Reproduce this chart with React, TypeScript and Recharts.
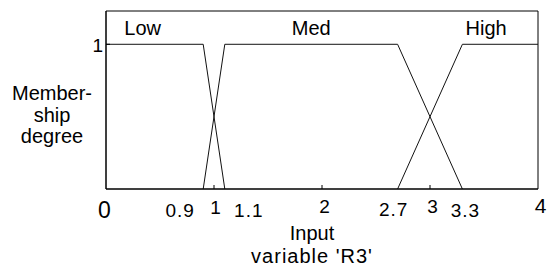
import React from 'react';
import { LineChart, Line, XAxis, YAxis, ReferenceArea, ReferenceDot } from 'recharts';

const lowSet = [
  { x: 0, y: 1 },
  { x: 0.9, y: 1 },
  { x: 1.1, y: 0 },
];
const medSet = [
  { x: 0.9, y: 0 },
  { x: 1.1, y: 1 },
  { x: 2.7, y: 1 },
  { x: 3.3, y: 0 },
];
const highSet = [
  { x: 2.7, y: 0 },
  { x: 3.3, y: 1 },
  { x: 4, y: 1 },
];
const setNames = [
  { name: 'Low', x: 0.34 },
  { name: 'Med', x: 1.9 },
  { name: 'High', x: 3.52 },
];
const xTicks = [0, 0.9, 1, 1.1, 2, 2.7, 3, 3.3, 4];
const majorTicks = [1, 2, 3];

const FONT = '"Liberation Sans", Arial, sans-serif';

// hand placement of the tick labels, as in the original figure
const tickStyle: Record<string, { dx: number; dy: number; size: number }> = {
  '0': { dx: -1, dy: 29, size: 23 },
  '0.9': { dx: -23, dy: 28, size: 19 },
  '1': { dx: 2, dy: 25, size: 19 },
  '1.1': { dx: 24, dy: 28, size: 19 },
  '2': { dx: 3, dy: 24, size: 19 },
  '2.7': { dx: -4, dy: 27, size: 19 },
  '3': { dx: 3, dy: 24, size: 19 },
  '3.3': { dx: 3, dy: 28, size: 19 },
  '4': { dx: 3, dy: 24, size: 21 },
};

const XTick = (props: any) => {
  const { x, y, payload } = props;
  const key = String(payload.value);
  const s = tickStyle[key] || { dx: 0, dy: 24, size: 19 };
  return (
    <g>
      {majorTicks.includes(payload.value) && (
        <line x1={x} y1={y} x2={x} y2={y - 4} stroke="#000" strokeWidth={1} />
      )}
      <text x={x + s.dx} y={y + s.dy} textAnchor="middle" fontSize={s.size} fontFamily={FONT} fill="#000" letterSpacing={1}>
        {key}
      </text>
    </g>
  );
};

const YTick = (props: any) => {
  const { x, y, payload } = props;
  return (
    <g>
      <line x1={x} y1={y} x2={x + 4} y2={y} stroke="#000" strokeWidth={1} />
      <text x={x - 3} y={y + 8} textAnchor="end" fontSize={19} fontFamily={FONT} fill="#000">
        {payload.value}
      </text>
    </g>
  );
};

const XTitle = () => (
  <g fontFamily={FONT} fontSize={20} fill="#000" textAnchor="middle">
    <text x={312} y={240}>Input</text>
    <text x={312} y={263} letterSpacing={1}>variable  'R3'</text>
  </g>
);

const YTitle = () => (
  <g fontFamily={FONT} fontSize={20} fill="#000" textAnchor="middle">
    <text x={52} y={100}>Member-</text>
    <text x={52} y={122}>ship</text>
    <text x={52} y={143}>degree</text>
  </g>
);

export default function App() {
  return (
    <div style={{ position: 'absolute', left: 0, top: 0, background: '#fff' }}>
      <LineChart width={547} height={268} margin={{ top: 11, right: 9, left: 46, bottom: 49 }}>
        <XAxis
          type="number"
          dataKey="x"
          domain={[0, 4]}
          ticks={xTicks}
          interval={0}
          tickSize={0}
          tickMargin={0}
          tick={<XTick />}
          axisLine={{ stroke: '#000' }}
          height={30}
          label={{ content: <XTitle /> }}
        />
        <YAxis
          type="number"
          domain={[0, 1.23]}
          ticks={[1]}
          tickSize={0}
          tickMargin={0}
          tick={<YTick />}
          axisLine={{ stroke: '#000' }}
          width={60}
          label={{ content: <YTitle /> }}
        />
        <ReferenceArea x1={0} x2={4} y1={0} y2={1.23} fill="none" stroke="#000" strokeWidth={1} ifOverflow="visible" />
        <Line data={lowSet} dataKey="y" stroke="#111" strokeWidth={1} dot={false} isAnimationActive={false} />
        <Line data={medSet} dataKey="y" stroke="#111" strokeWidth={1} dot={false} isAnimationActive={false} />
        <Line data={highSet} dataKey="y" stroke="#111" strokeWidth={1} dot={false} isAnimationActive={false} />
        {setNames.map((s) => (
          <ReferenceDot
            key={s.name}
            x={s.x}
            y={1}
            r={0}
            fill="none"
            stroke="none"
            label={{ value: s.name, position: 'top', offset: 9, fontSize: 20, fill: '#000', fontFamily: FONT }}
          />
        ))}
      </LineChart>
    </div>
  );
}
